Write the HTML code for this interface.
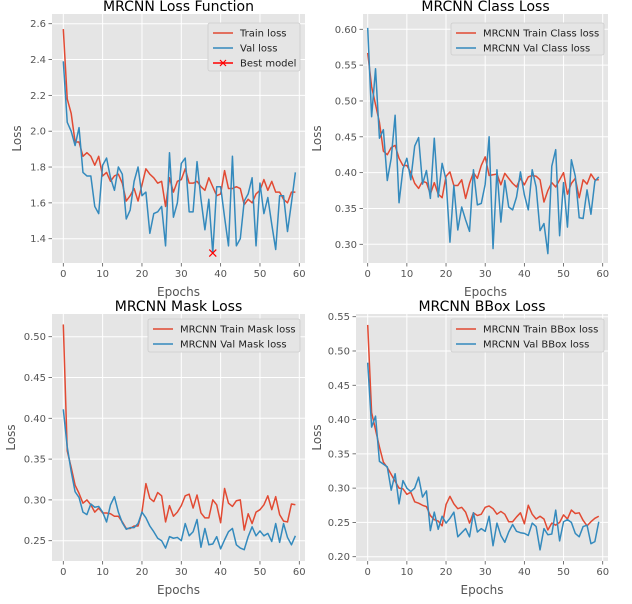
<!DOCTYPE html>
<html><head><meta charset="utf-8"><style>
html,body{margin:0;padding:0;background:#fff;}
svg{display:block;font-family:"DejaVu Sans","Liberation Sans",sans-serif;}
</style></head><body>
<svg id="chart" width="632" height="604" viewBox="0 0 632 604" xmlns="http://www.w3.org/2000/svg"></svg>
<script>
const epochs = Array.from({length:60},(_,i)=>i);
const lossTrain = [2.57,2.18,2.1,1.94,1.94,1.86,1.88,1.86,1.81,1.86,1.75,1.77,1.72,1.75,1.76,1.71,1.61,1.64,1.68,1.61,1.70,1.79,1.76,1.74,1.71,1.72,1.58,1.74,1.66,1.72,1.73,1.79,1.71,1.71,1.72,1.69,1.67,1.74,1.69,1.64,1.65,1.78,1.68,1.68,1.69,1.68,1.59,1.62,1.60,1.65,1.67,1.73,1.67,1.72,1.66,1.66,1.62,1.60,1.66,1.66];
const lossVal = [2.39,2.05,2.0,1.92,2.02,1.77,1.75,1.75,1.58,1.54,1.81,1.85,1.74,1.67,1.80,1.76,1.51,1.56,1.72,1.80,1.64,1.66,1.43,1.54,1.55,1.58,1.36,1.88,1.52,1.60,1.82,1.85,1.55,1.55,1.83,1.62,1.45,1.62,1.32,1.69,1.69,1.52,1.36,1.86,1.36,1.40,1.61,1.65,1.74,1.36,1.71,1.54,1.63,1.48,1.34,1.64,1.64,1.44,1.60,1.77];
const bestEpoch = 38;
const bestValue = 1.32;
const classTrain = [0.567,0.52,0.495,0.47,0.43,0.425,0.435,0.438,0.42,0.41,0.41,0.40,0.385,0.378,0.388,0.386,0.37,0.386,0.37,0.365,0.395,0.401,0.382,0.382,0.39,0.364,0.385,0.40,0.392,0.41,0.422,0.396,0.397,0.398,0.383,0.399,0.392,0.385,0.38,0.392,0.383,0.394,0.396,0.395,0.39,0.359,0.375,0.386,0.38,0.39,0.40,0.37,0.385,0.392,0.365,0.39,0.384,0.398,0.39,0.39];
const classVal = [0.602,0.478,0.545,0.448,0.46,0.389,0.42,0.48,0.358,0.405,0.42,0.39,0.437,0.449,0.384,0.403,0.364,0.448,0.366,0.413,0.39,0.303,0.382,0.32,0.352,0.334,0.318,0.404,0.355,0.357,0.384,0.45,0.294,0.404,0.331,0.389,0.352,0.348,0.366,0.401,0.369,0.348,0.404,0.38,0.319,0.329,0.287,0.409,0.432,0.312,0.386,0.324,0.418,0.395,0.337,0.336,0.376,0.342,0.388,0.394];
const maskTrain = [0.515,0.36,0.34,0.318,0.308,0.296,0.3,0.294,0.285,0.29,0.284,0.284,0.283,0.28,0.28,0.273,0.265,0.265,0.268,0.268,0.285,0.32,0.302,0.298,0.309,0.305,0.273,0.293,0.28,0.285,0.293,0.305,0.307,0.29,0.306,0.284,0.278,0.278,0.3,0.294,0.272,0.314,0.296,0.292,0.299,0.3,0.263,0.283,0.271,0.285,0.288,0.294,0.305,0.288,0.304,0.282,0.274,0.273,0.295,0.294];
const maskVal = [0.411,0.365,0.335,0.31,0.303,0.285,0.282,0.295,0.291,0.292,0.285,0.273,0.294,0.304,0.285,0.272,0.264,0.266,0.266,0.271,0.285,0.278,0.268,0.261,0.253,0.25,0.241,0.255,0.253,0.254,0.25,0.271,0.256,0.261,0.276,0.242,0.265,0.245,0.246,0.255,0.24,0.251,0.261,0.265,0.245,0.241,0.239,0.255,0.267,0.256,0.262,0.256,0.259,0.249,0.271,0.248,0.271,0.254,0.245,0.256];
const bboxTrain = [0.538,0.41,0.385,0.36,0.338,0.33,0.32,0.31,0.3,0.299,0.291,0.294,0.28,0.278,0.275,0.273,0.26,0.254,0.252,0.245,0.276,0.288,0.277,0.27,0.272,0.265,0.249,0.264,0.26,0.262,0.272,0.274,0.27,0.262,0.266,0.262,0.251,0.251,0.258,0.264,0.248,0.275,0.262,0.255,0.259,0.255,0.239,0.249,0.246,0.25,0.261,0.255,0.268,0.263,0.264,0.253,0.245,0.251,0.256,0.259];
const bboxVal = [0.483,0.389,0.405,0.339,0.335,0.331,0.297,0.321,0.277,0.311,0.3,0.295,0.3,0.316,0.287,0.296,0.238,0.265,0.24,0.259,0.249,0.256,0.265,0.229,0.235,0.241,0.229,0.264,0.236,0.241,0.237,0.259,0.216,0.249,0.231,0.221,0.236,0.247,0.237,0.235,0.234,0.231,0.249,0.244,0.21,0.241,0.232,0.233,0.268,0.223,0.251,0.254,0.25,0.234,0.229,0.244,0.246,0.219,0.222,0.251];
const xTicks = [0,10,20,30,40,50,60];
const yTicksLoss = [1.4,1.6,1.8,2.0,2.2,2.4,2.6];
const yTicksClass = [0.30,0.35,0.40,0.45,0.50,0.55,0.60];
const yTicksMask = [0.25,0.30,0.35,0.40,0.45,0.50];
const yTicksBBox = [0.20,0.25,0.30,0.35,0.40,0.45,0.50,0.55];

const NS='http://www.w3.org/2000/svg';
const svg=document.getElementById('chart');
const RED='#E24A33', BLUE='#348ABD';
function mk(tag,attrs,parent){const e=document.createElementNS(NS,tag);for(const k in attrs)e.setAttribute(k,attrs[k]);(parent||svg).appendChild(e);return e;}

function panel(cfg){
  const g=mk('g',{});
  
  
  const L=cfg.box[0],T=cfg.box[1],R=cfg.box[2],B=cfg.box[3];
  const xs=v=>cfg.x0+(v-0)*(cfg.x60-cfg.x0)/60;
  const ys=v=>cfg.ya+(v-cfg.va)*(cfg.yb-cfg.ya)/(cfg.vb-cfg.va);
  const bg=mk('rect',{x:L,y:T,width:R-L,height:B-T,fill:'#E5E5E5'},g);
  
  
  xTicks.forEach(t=>{
    const x=xs(t);
    mk('line',{x1:x,x2:x,y1:T,y2:B,stroke:'#fff','stroke-width':1},g);
    mk('line',{x1:x,x2:x,y1:B,y2:B+3.5,stroke:'#555','stroke-width':0.8},g);
    const tx=mk('text',{x:x,y:B+14,'text-anchor':'middle','font-size':10,fill:'#555'},g);
    tx.textContent=t;
    
    
  });
  cfg.yTicks.forEach(t=>{
    const y=ys(t);
    mk('line',{x1:L,x2:R,y1:y,y2:y,stroke:'#fff','stroke-width':1},g);
    mk('line',{x1:L-3.5,x2:L,y1:y,y2:y,stroke:'#555','stroke-width':0.8},g);
    const tx=mk('text',{x:L-6,y:y+3.5,'text-anchor':'end','font-size':10,fill:'#555'},g);
    tx.textContent=t.toFixed(cfg.dec);
    
    
  });
  cfg.series.forEach(s=>{
    const p=mk('polyline',{points:s.data.map((v,i)=>xs(epochs[i])+','+ys(v)).join(' '),fill:'none',stroke:s.color,'stroke-width':1.5,'stroke-linejoin':'round'},g);
    
    
  });
  if(cfg.best){
    const bx=xs(bestEpoch),by=ys(bestValue);
    const m=mk('path',{d:`M${bx-3.5} ${by-3.5}L${bx+3.5} ${by+3.5}M${bx-3.5} ${by+3.5}L${bx+3.5} ${by-3.5}`,stroke:'#FF0000','stroke-width':1.2},g);
    
    
  }
  const ti=mk('text',{x:(L+R)/2,y:T-3,'text-anchor':'middle','font-size':14,fill:'#000'},g);
  ti.textContent=cfg.title;
  
  
  const xl=mk('text',{x:(L+R)/2,y:B+33,'text-anchor':'middle','font-size':12,fill:'#555'},g);
  xl.textContent='Epochs';
  
  
  const yl=mk('text',{x:0,y:0,'text-anchor':'middle','font-size':12,fill:'#555',transform:`translate(${cfg.ylx},${(T+B)/2}) rotate(-90)`},g);
  yl.textContent='Loss';
  
  
  const lg=mk('g',{},g);
  
  
  const lb=cfg.legend;
  mk('rect',{x:lb[0],y:lb[1],width:lb[2]-lb[0],height:lb[3]-lb[1],fill:'#E5E5E5',stroke:'#cccccc','stroke-width':0.8,rx:2},lg);
  cfg.series.concat(cfg.best?[{label:'Best model',color:'#FF0000',best:true}]:[]).forEach((s,i)=>{
    const y=lb[1]+10+i*15;
    const e=mk('g',{},lg);
    
    
    mk('line',{x1:lb[0]+5,x2:lb[0]+25,y1:y,y2:y,stroke:s.color,'stroke-width':1.5},e);
    if(s.best){mk('path',{d:`M${lb[0]+12} ${y-3}L${lb[0]+18} ${y+3}M${lb[0]+12} ${y+3}L${lb[0]+18} ${y-3}`,stroke:'#FF0000','stroke-width':1.2},e);}
    const t=mk('text',{x:lb[0]+32,y:y+3.5,'font-size':10,fill:'#222'},e);
    t.textContent=s.label;
  });
}

panel({name:'loss-function-panel',title:'MRCNN Loss Function',box:[52,14,305,263],x0:63.3,x60:299.3,ya:238.7,va:1.4,yb:23.7,vb:2.6,yTicks:yTicksLoss,dec:1,ylx:21,
  series:[{id:'train-loss-line',label:'Train loss',color:RED,data:lossTrain},{id:'val-loss-line',label:'Val loss',color:BLUE,data:lossVal}],best:true,legend:[208,23,300,71]});
panel({name:'class-loss-panel',title:'MRCNN Class Loss',box:[363,14,608,263],x0:367.7,x60:602.7,ya:244.3,va:0.30,yb:29.3,vb:0.60,yTicks:yTicksClass,dec:2,ylx:321,
  series:[{id:'train-class-loss-line',label:'MRCNN Train Class loss',color:RED,data:classTrain},{id:'val-class-loss-line',label:'MRCNN Val Class loss',color:BLUE,data:classVal}],legend:[451,23,604,55]});
panel({name:'mask-loss-panel',title:'MRCNN Mask Loss',box:[52,314,305,561],x0:63.3,x60:299.3,ya:540.7,va:0.25,yb:336.7,vb:0.50,yTicks:yTicksMask,dec:2,ylx:15,
  series:[{id:'train-mask-loss-line',label:'MRCNN Train Mask loss',color:RED,data:maskTrain},{id:'val-mask-loss-line',label:'MRCNN Val Mask loss',color:BLUE,data:maskVal}],legend:[148,319,300,352]});
panel({name:'bbox-loss-panel',title:'MRCNN BBox Loss',box:[356,314,608,561],x0:367.7,x60:602.7,ya:556.7,va:0.20,yb:316.7,vb:0.55,yTicks:yTicksBBox,dec:2,ylx:321,
  series:[{id:'train-bbox-loss-line',label:'MRCNN Train BBox loss',color:RED,data:bboxTrain},{id:'val-bbox-loss-line',label:'MRCNN Val BBox loss',color:BLUE,data:bboxVal}],legend:[451,319,604,352]});
</script>
</body></html>
